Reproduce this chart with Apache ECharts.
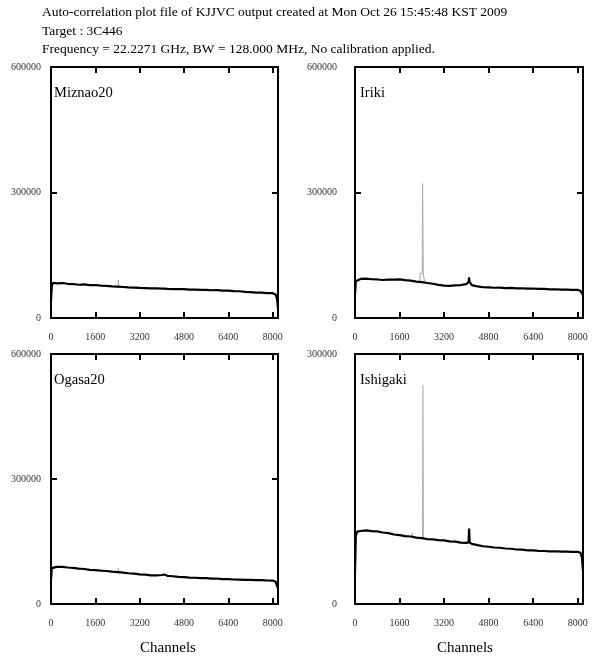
<!DOCTYPE html>
<html>
<head>
<meta charset="utf-8">
<script src="https://cdn.jsdelivr.net/npm/echarts@6/dist/echarts.min.js"></script>
<style>
html,body{margin:0;padding:0;background:#fff;}
#c{width:597px;height:661px;}
</style>
</head>
<body>
<div id="c"></div>
<script>
// ---- Data ----
var titleLines = [
  "Auto-correlation plot file of KJJVC output created at Mon Oct 26 15:45:48 KST 2009",
  "Target : 3C446",
  "Frequency = 22.2271 GHz, BW = 128.000 MHz, No calibration applied."
];
var stations = ["Miznao20", "Iriki", "Ogasa20", "Ishigaki"];
var xTickLabels = ["0", "1600", "3200", "4800", "6400", "8000"];
var yTickLabels = ["0", "300000", "600000"];
var xLabel = "Channels";
var yMaxes = [600000, 600000, 600000, 300000];

var channels = [0, 30, 80, 200, 400, 600, 800, 1000, 1200, 1400, 1600, 1800, 2000, 2200, 2400, 2430, 2460, 2600, 2800, 3000,
  3200, 3400, 3600, 3800, 4000, 4080, 4100, 4120, 4200, 4400, 4600, 4800, 5000, 5200, 5400, 5600, 5800, 6000, 6200, 6400,
  6600, 6800, 7000, 7200, 7400, 7600, 7800, 8000, 8100, 8150, 8192];

var miznao20 = [40000, 78000, 84000, 83000, 83600, 81800, 81200, 79500, 80300, 78600, 78900, 77400, 76600, 75400, 75200, 74800, 74300, 74100, 73000, 72700,
  71900, 71600, 71000, 70800, 70100, 70300, 69800, 69900, 69600, 69200, 68800, 68900, 68000, 67900, 67200, 67100, 66300, 66400, 65600, 65500,
  64300, 63900, 62600, 62000, 60800, 60600, 59500, 59300, 56500, 48000, 24000];

var iriki = [55000, 88000, 92000, 93500, 93900, 92600, 92100, 90800, 91600, 91800, 92400, 90500, 89300, 87000, 85900, 85000, 85300, 83600, 81900, 79200,
  77600, 77000, 77900, 78800, 81000, 86000, 97000, 86000, 78500, 75400, 73500, 73000, 72300, 72400, 71600, 71800, 71000, 71100, 70400, 70500,
  69600, 69500, 68600, 68700, 67800, 67800, 67200, 67100, 65000, 62000, 55000];

var ogasa20 = [57600, 86000, 89500, 89200, 89100, 87600, 86900, 85000, 84000, 82000, 81300, 80000, 79200, 77600, 76600, 76200, 76000, 75500, 73800, 73000,
  71200, 70400, 68900, 68500, 69600, 70800, 70400, 69800, 67600, 66600, 65000, 64500, 63200, 63000, 62000, 62000, 61000, 60800, 59800, 59600,
  58800, 58700, 57900, 57900, 57100, 57100, 56400, 56300, 54000, 50000, 37600];

var ishigaki = [37000, 82000, 86800, 87600, 88400, 87400, 87200, 85800, 85100, 83400, 82700, 81500, 81000, 79600, 79000, 78400, 78600, 77800, 77600, 76600,
  76400, 75200, 74800, 73600, 73400, 74000, 90400, 73400, 72200, 70600, 69300, 68700, 67800, 67500, 66600, 66300, 65400, 65200, 64400, 64300,
  63700, 63600, 63200, 63300, 62900, 62900, 62500, 62600, 61500, 57000, 39100];

// grey (second) spectra, only where they stand out from the black curve
var miznaoGreyCh = [2420, 2432, 2444];
var miznaoGreyVal = [74800, 91000, 74700];
var irikiGreyCh = [2330, 2340, 2420, 2428, 2442, 2450, 2490, 2500];
var irikiGreyVal = [85500, 107000, 107000, 322000, 322000, 107000, 107000, 84500];
var ogasaGreyCh = [2420, 2432, 2444];
var ogasaGreyVal = [76300, 87000, 76200];
var ishigakiGreyCh = [2040, 2060, 2080, 2250, 2425, 2440, 2455];
var ishigakiGreyVal = [80800, 85000, 80700, null, 78500, 263000, 78500];

var blackSeries = [miznao20, iriki, ogasa20, ishigaki];
var greySeries = [[miznaoGreyCh, miznaoGreyVal], [irikiGreyCh, irikiGreyVal], [ogasaGreyCh, ogasaGreyVal], [ishigakiGreyCh, ishigakiGreyVal]];

// ---- Layout ----
var grids = [
  {left: 51, top: 67, width: 227, height: 251, ylm: 10},
  {left: 355, top: 67, width: 228, height: 251, ylm: 18},
  {left: 51, top: 354, width: 227, height: 250, ylm: 10},
  {left: 355, top: 354, width: 228, height: 250, ylm: 18}
];

function pairs(xs, ys) { return xs.map(function (x, i) { return [x, ys[i]]; }); }

var tickFont = {fontFamily: 'Liberation Serif', fontSize: 10, color: '#333'};
var line2 = {show: true, onZero: false, lineStyle: {color: '#000', width: 2}};
var tick2 = {show: true, inside: true, length: 6, lineStyle: {color: '#000', width: 2}};

var option = {
  animation: false,
  backgroundColor: '#fff',
  grid: [], xAxis: [], yAxis: [], series: [], graphic: []
};

grids.forEach(function (g, i) {
  option.grid.push({left: g.left, top: g.top, width: g.width, height: g.height, show: false});
  option.xAxis.push({
    type: 'value', gridIndex: i, position: 'bottom', min: 0, max: 8192, interval: 1600,
    axisLine: line2, axisTick: tick2, splitLine: {show: false},
    axisLabel: Object.assign({margin: 14, showMaxLabel: false,
      formatter: function (v) { var idx = Math.round(v / 1600); return (v % 1600 === 0 && idx < xTickLabels.length) ? xTickLabels[idx] : ''; }
    }, tickFont)
  });
  option.xAxis.push({
    type: 'value', gridIndex: i, position: 'top', min: 0, max: 8192, interval: 1600,
    axisLine: line2, axisTick: tick2, splitLine: {show: false}, axisLabel: {show: false}
  });
  option.yAxis.push({
    type: 'value', gridIndex: i, position: 'left', min: 0, max: yMaxes[i], interval: 300000,
    axisLine: line2, axisTick: tick2, splitLine: {show: false},
    axisLabel: Object.assign({margin: g.ylm, padding: [5, 0, 0, 0],
      formatter: function (v) { var idx = Math.round(v / 300000); return yTickLabels[idx] || ''; }
    }, tickFont)
  });
  option.yAxis.push({
    type: 'value', gridIndex: i, position: 'right', min: 0, max: yMaxes[i], interval: 300000,
    axisLine: line2, axisTick: tick2, splitLine: {show: false}, axisLabel: {show: false}
  });

  option.series.push({
    type: 'line', xAxisIndex: i * 2, yAxisIndex: i * 2, showSymbol: false, connectNulls: false,
    lineStyle: {color: '#b0b0b0', width: 1.2}, z: 2,
    data: pairs(greySeries[i][0], greySeries[i][1])
  });
  option.series.push({
    type: 'line', xAxisIndex: i * 2, yAxisIndex: i * 2, showSymbol: false,
    lineStyle: {color: '#000', width: 2.2}, z: 3,
    data: pairs(channels, blackSeries[i])
  });

  option.graphic.push({
    type: 'text', x: g.left + (i % 2 === 0 ? 3 : 5), y: g.top + 26,
    style: {text: stations[i], font: '14.5px "Liberation Serif"', fill: '#000',
      align: 'left', verticalAlign: 'middle', textAlign: 'left', textVerticalAlign: 'middle'}
  });
});

titleLines.forEach(function (t, k) {
  option.graphic.push({
    type: 'text', x: 42, y: [12, 31, 49][k],
    style: {text: t, font: '13.5px "Liberation Serif"', fill: '#000',
      align: 'left', verticalAlign: 'middle', textAlign: 'left', textVerticalAlign: 'middle'}
  });
});

[168, 465].forEach(function (cx) {
  option.graphic.push({
    type: 'text', x: cx, y: 648,
    style: {text: xLabel, font: '15px "Liberation Serif"', fill: '#000',
      align: 'center', verticalAlign: 'middle', textAlign: 'center', textVerticalAlign: 'middle'}
  });
});

var chart = echarts.init(document.getElementById('c'), null, {renderer: 'canvas'});
chart.setOption(option);
</script>
</body>
</html>
